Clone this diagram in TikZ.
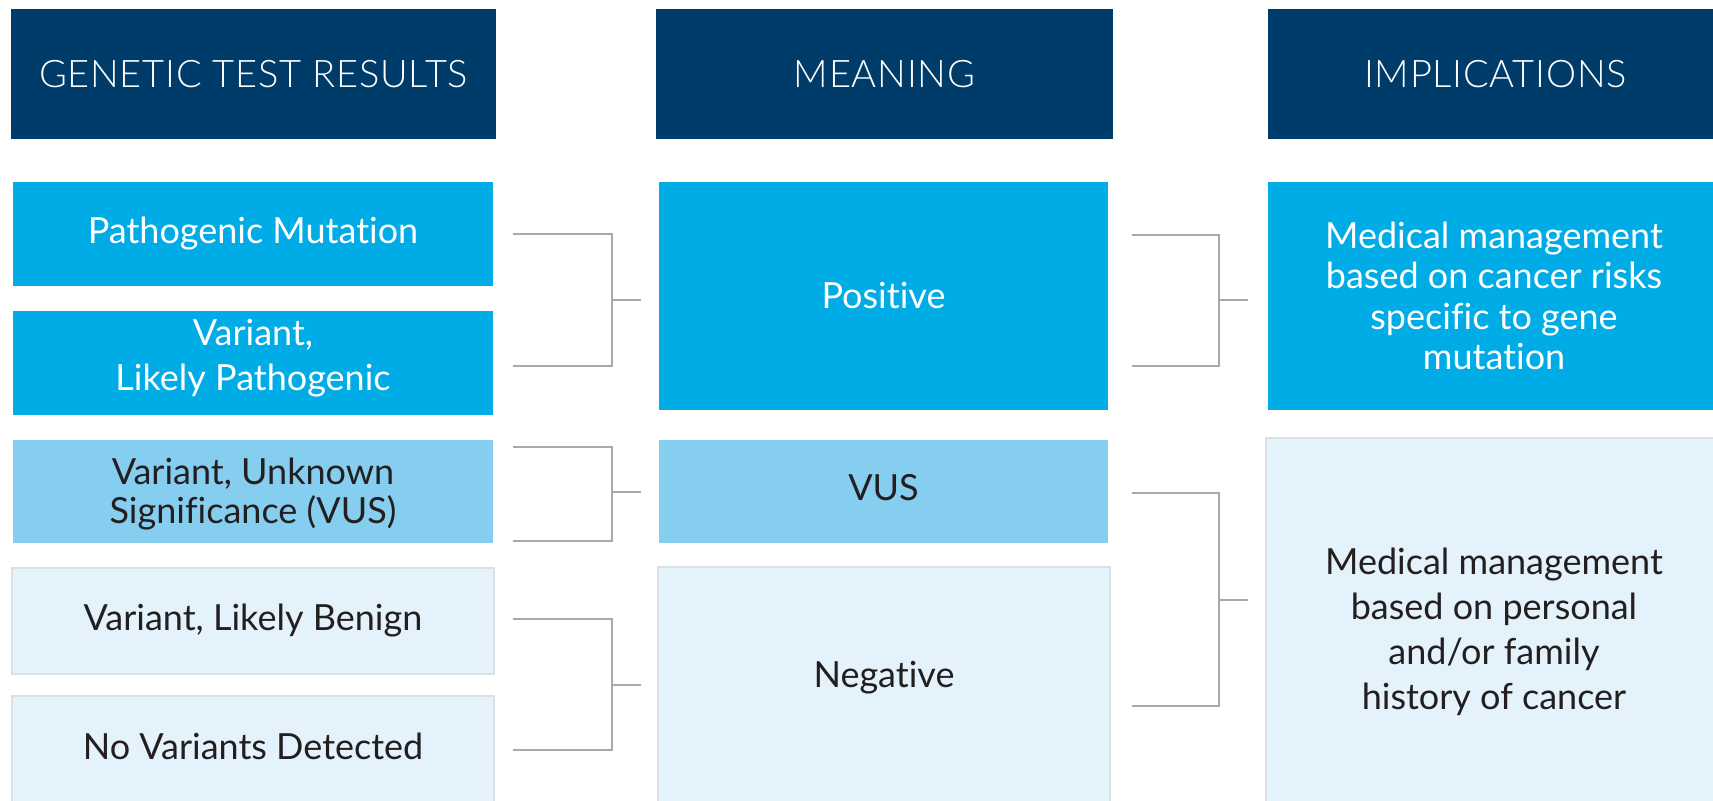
\documentclass[tikz,border=0pt]{standalone}
\usepackage{fontspec}
\setmainfont{Lato}[Ligatures=NoCommon]
\newfontfamily\hdrfont[LetterSpace=2,Ligatures=NoCommon]{Lato Light}
\definecolor{navy}{HTML}{003C69}
\definecolor{bright}{HTML}{00ACE6}
\definecolor{midblue}{HTML}{85CEF0}
\definecolor{lightblue}{HTML}{E3F2FB}
\definecolor{lightborder}{HTML}{DCE0E3}
\definecolor{conngray}{HTML}{A7A9AC}
\definecolor{darktxt}{HTML}{231F20}
\begin{document}
\begin{tikzpicture}[x=0.5pt,y=-0.5pt,
  sz/.style 2 args={minimum width=#1*0.5pt, minimum height=#2*0.5pt},
  bodyfont/.style={font=\fontsize{18}{20.2}\selectfont},
  widefont/.style={font=\fontsize{18}{22.4}\selectfont},
  tightfont/.style={font=\fontsize{18}{19.6}\selectfont},
  hdr/.style={fill=navy, text=white, inner sep=0pt, font=\hdrfont\fontsize{19}{22}\selectfont},
  brightbox/.style={fill=bright, text=white, inner sep=0pt, align=center, bodyfont},
  midbox/.style={fill=midblue, text=darktxt, inner sep=0pt, align=center, bodyfont},
  lightbox/.style={fill=lightblue, draw=lightborder, line width=1pt, text=darktxt, inner sep=0pt, align=center, bodyfont},
  txt/.style={text=darktxt, inner sep=0pt, align=center, bodyfont},
  conn/.style={draw=conngray, line width=1.1pt, line join=miter}]
\useasboundingbox (0,0) rectangle (1713,801);
\clip (0,0) rectangle (1713,801);
\fill[white] (0,0) rectangle (1713,801);
% headers
\node[hdr, sz={485}{130}] (h1) at (253.5,74) {GENETIC TEST RESULTS};
\node[hdr, sz={457}{130}] (h2) at (884.5,74) {MEANING};
\node[hdr, sz={455}{130}] (h3) at (1495.5,74) {IMPLICATIONS};
% left column
\node[brightbox, sz={480}{104}] (pm) at (253,234) {Pathogenic Mutation};
\node[brightbox, sz={480}{104}] (vlp) at (253,363) {};
\node[txt, text=white, widefont] (vlpt) at (253,358) {Variant,\\Likely Pathogenic};
\node[midbox, sz={480}{103}] (lvus) at (253,491.5) {};
\node[txt, tightfont] (lvust) at (253,494) {Variant, Unknown\\Significance (VUS)};
\node[lightbox, sz={482}{106}] (lb) at (253,621) {Variant, Likely Benign};
\node[lightbox, sz={482}{124}] (nv) at (253,758) {};
\node[txt] (nvt) at (253,746) {No Variants Detected};
% middle column
\node[brightbox, sz={449}{228}] (pos) at (883.5,296) {Positive};
\node[midbox, sz={449}{103}] (mvus) at (883.5,491.5) {};
\node[txt] (mvust) at (883.5,488) {VUS};
\node[lightbox, sz={452}{252}] (neg) at (884,693) {};
\node[txt] (negt) at (884,678) {Negative};
% right column
\node[brightbox, sz={452}{228}] (imp1) at (1494,296) {Medical management\\based on cancer risks\\specific to gene\\mutation};
\node[lightbox, sz={456}{382}] (imp2) at (1494,629) {};
\node[txt, widefont] (imp2t) at (1494,632) {Medical management\\based on personal\\and/or family\\history of cancer};
% brackets
\coordinate (k1a) at (513,234); \coordinate (k1b) at (513,366); \coordinate (k1j) at (612,300); \coordinate (k1c) at (641,300);
\coordinate (k2a) at (513,447); \coordinate (k2b) at (513,541); \coordinate (k2j) at (612,492); \coordinate (k2c) at (641,492);
\coordinate (k3a) at (513,619); \coordinate (k3b) at (513,750); \coordinate (k3j) at (612,685); \coordinate (k3c) at (641,685);
\coordinate (k4a) at (1132,235); \coordinate (k4b) at (1132,366); \coordinate (k4j) at (1219,300); \coordinate (k4c) at (1248,300);
\coordinate (k5a) at (1132,493); \coordinate (k5b) at (1132,706); \coordinate (k5j) at (1219,600); \coordinate (k5c) at (1248,600);
\foreach \k in {k1,k2,k3,k4,k5}{
  \draw[conn] (\k a) -| (\k j) |- (\k b);
  \draw[conn] (\k j) -- (\k c);
}
\end{tikzpicture}
\end{document}
